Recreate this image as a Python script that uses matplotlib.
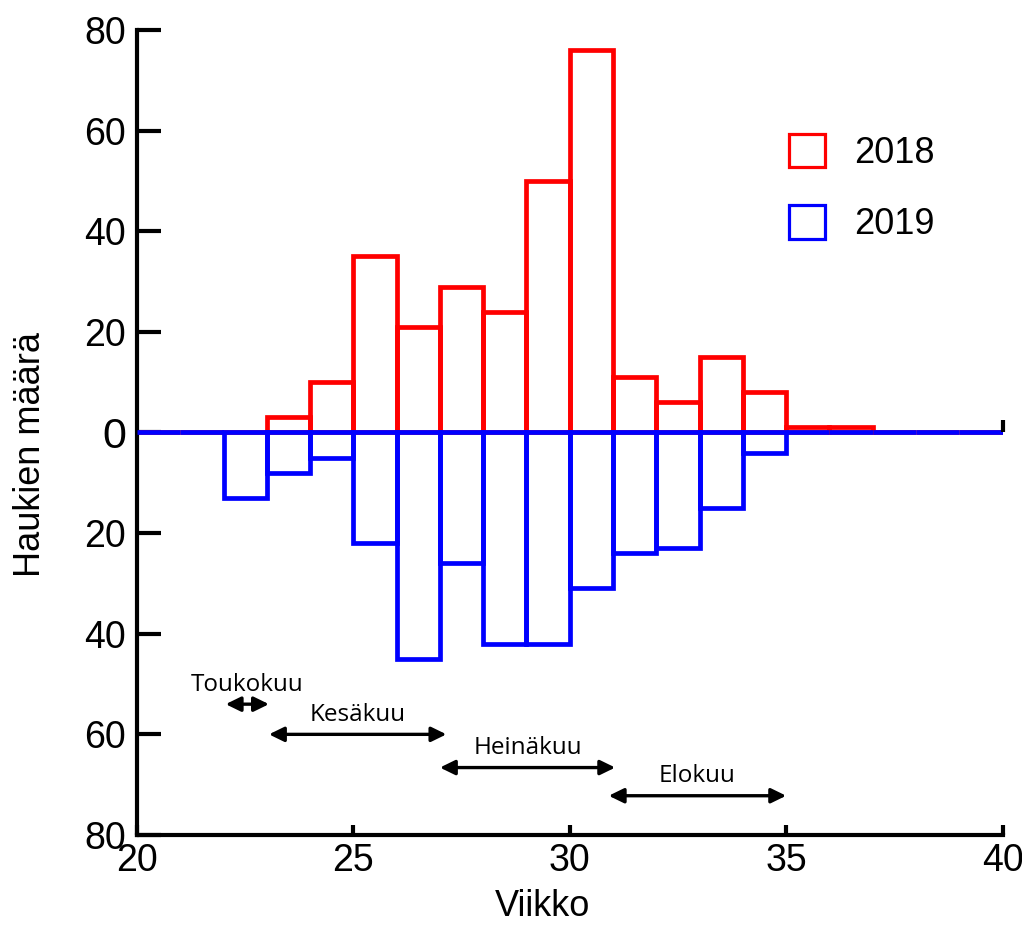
import matplotlib
matplotlib.use("Agg")
import matplotlib.pyplot as plt
from matplotlib.patches import Patch
from matplotlib.ticker import FuncFormatter

# Weekly pike counts (week start 20..39)
weeks = list(range(20, 40))
count_2018 = [0, 0, 0, 3, 10, 35, 21, 29, 24, 50, 76, 11, 6, 15, 8, 1, 1, 0, 0, 0]
count_2019 = [0, 0, 13, 8, 5, 22, 45, 26, 42, 42, 31, 24, 23, 15, 4, 0, 0, 0, 0, 0]

# Month spans along the week axis: (label, start week, end week, y level)
months = ["Toukokuu", "Kesäkuu", "Heinäkuu", "Elokuu"]
month_start = [22.05, 23.05, 27.0, 30.9]
month_end = [23.05, 27.15, 31.05, 35.0]
month_y = [-54, -60, -66.6, -72.2]

plt.rcParams["font.family"] = ["Liberation Sans", "DejaVu Sans"]

fig = plt.figure(figsize=(10.22, 9.26), dpi=100)
ax = fig.add_axes([0.134, 0.0983, 0.847, 0.8693])

red = "#ff0000"
blue = "#0000ff"
lw = 3.4

ax.bar(weeks, count_2018, width=1, align="edge", fill=False,
       edgecolor=red, linewidth=lw, zorder=2)
ax.bar(weeks, [-v for v in count_2019], width=1, align="edge", fill=False,
       edgecolor=blue, linewidth=lw, zorder=3)

ax.set_xlim(20, 40)
ax.set_ylim(-80, 80)
ax.set_xticks([20, 25, 30, 35, 40])
ax.set_yticks(range(-80, 81, 20))
ax.yaxis.set_major_formatter(FuncFormatter(lambda v, p: f"{abs(int(v))}"))

for side in ("top", "right"):
    ax.spines[side].set_visible(False)
for side in ("left", "bottom"):
    ax.spines[side].set_linewidth(3)

ax.tick_params(axis="y", direction="in", length=17, width=3, labelsize=27, pad=8)
ax.tick_params(axis="x", direction="in", length=7, width=3, labelsize=27, pad=6)
for lab in ax.get_yticklabels():
    if lab.get_text() == "0":
        lab.set_fontsize(31)

# small end tick at the zero line
ax.plot([40, 40], [0, 2.5], color="black", linewidth=3, clip_on=False,
        solid_capstyle="butt", zorder=4)

ax.set_xlabel("Viikko", fontsize=26, va="center", ha="center")
ax.set_ylabel("Haukien määrä", fontsize=26, va="center", ha="center")
ax.xaxis.set_label_coords(0.468, -0.089)
ax.yaxis.set_label_coords(-0.1235, 0.473)

# Month arrows and labels
for name, x0, x1, y in zip(months, month_start, month_end, month_y):
    ax.annotate("", xy=(x0, y), xytext=(x1, y),
                arrowprops=dict(arrowstyle="<|-|>,head_length=0.45,head_width=0.22",
                                color="black", lw=2.4,
                                mutation_scale=20, shrinkA=0, shrinkB=0))
    ax.text((x0 + x1) / 2, y + 1.5, name, ha="center", va="bottom",
            fontsize=17.5, family=["Open Sans", "DejaVu Sans"])

handles = [Patch(facecolor="none", edgecolor=red, linewidth=2.3, label="2018"),
           Patch(facecolor="none", edgecolor=blue, linewidth=2.3, label="2019")]
ax.legend(handles=handles, loc="upper left", bbox_to_anchor=(0.7365, 0.889),
          frameon=False, fontsize=26, handlelength=1.0, handleheight=1.05,
          handletextpad=0.8, labelspacing=0.95, borderaxespad=0)

fig.savefig("out.png", dpi=100)
